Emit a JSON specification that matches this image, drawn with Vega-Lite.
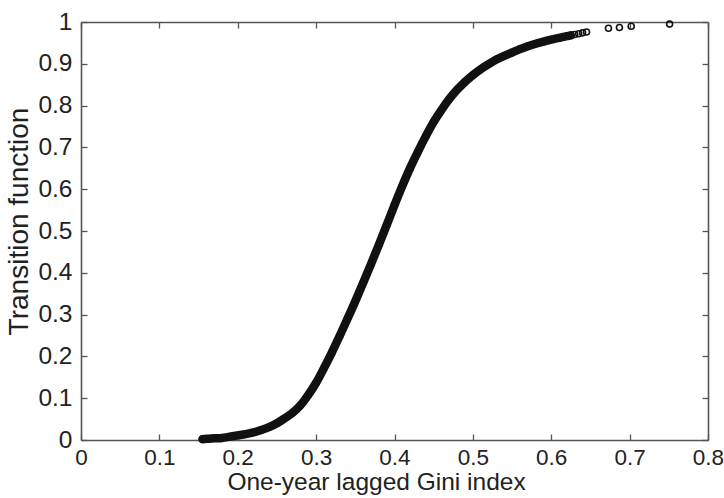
{
  "$schema": "https://vega.github.io/schema/vega-lite/v6.json",
  "width": 627,
  "height": 418,
  "autosize": "none",
  "padding": {"left": 81, "top": 22, "right": 16, "bottom": 58},
  "background": "white",
  "config": {
    "view": {"stroke": null},
    "font": "Liberation Sans",
    "axis": {
      "grid": false,
      "domainColor": "#555555",
      "domainWidth": 1.6,
      "tickColor": "#555555",
      "tickWidth": 1.3,
      "tickSize": -6,
      "labelFont": "Liberation Sans",
      "labelColor": "#222222",
      "titleFont": "Liberation Sans",
      "titleFontWeight": "normal",
      "titleColor": "#222222"
    }
  },
  "data": {
    "values": [
      {"x": 0.155, "y": 0.002}, {"x": 0.16, "y": 0.003}, {"x": 0.17, "y": 0.004}, {"x": 0.18, "y": 0.005},
      {"x": 0.19, "y": 0.008}, {"x": 0.20, "y": 0.011}, {"x": 0.21, "y": 0.014}, {"x": 0.22, "y": 0.018},
      {"x": 0.23, "y": 0.024}, {"x": 0.24, "y": 0.031}, {"x": 0.25, "y": 0.040}, {"x": 0.26, "y": 0.052},
      {"x": 0.27, "y": 0.065}, {"x": 0.28, "y": 0.083}, {"x": 0.29, "y": 0.108}, {"x": 0.30, "y": 0.137},
      {"x": 0.31, "y": 0.172}, {"x": 0.32, "y": 0.209}, {"x": 0.33, "y": 0.249}, {"x": 0.34, "y": 0.290},
      {"x": 0.35, "y": 0.332}, {"x": 0.36, "y": 0.376}, {"x": 0.37, "y": 0.421}, {"x": 0.38, "y": 0.467},
      {"x": 0.39, "y": 0.514}, {"x": 0.40, "y": 0.562}, {"x": 0.41, "y": 0.608}, {"x": 0.42, "y": 0.651},
      {"x": 0.43, "y": 0.690}, {"x": 0.44, "y": 0.727}, {"x": 0.45, "y": 0.761}, {"x": 0.46, "y": 0.790},
      {"x": 0.47, "y": 0.816}, {"x": 0.48, "y": 0.838}, {"x": 0.49, "y": 0.857}, {"x": 0.50, "y": 0.873},
      {"x": 0.51, "y": 0.887}, {"x": 0.52, "y": 0.899}, {"x": 0.53, "y": 0.910}, {"x": 0.54, "y": 0.919},
      {"x": 0.55, "y": 0.927}, {"x": 0.56, "y": 0.935}, {"x": 0.57, "y": 0.942}, {"x": 0.58, "y": 0.948},
      {"x": 0.59, "y": 0.953}, {"x": 0.60, "y": 0.958}, {"x": 0.61, "y": 0.962}, {"x": 0.62, "y": 0.966},
      {"x": 0.625, "y": 0.968}, {"x": 0.63, "y": 0.970}, {"x": 0.635, "y": 0.972}, {"x": 0.64, "y": 0.974},
      {"x": 0.645, "y": 0.976},
      {"x": 0.673, "y": 0.985}, {"x": 0.687, "y": 0.987}, {"x": 0.702, "y": 0.990}, {"x": 0.751, "y": 0.995}
    ]
  },
  "resolve": {"axis": {"x": "independent", "y": "independent"}},
  "layer": [
    {
      "transform": [{"filter": "datum.x <= 0.625"}],
      "mark": {"type": "line", "color": "#111111", "strokeWidth": 8.5, "strokeCap": "round", "interpolate": "monotone"},
      "encoding": {
        "x": {"field": "x", "type": "quantitative", "scale": {"domain": [0, 0.8], "nice": false, "zero": false},
              "axis": {"orient": "bottom", "title": "One-year lagged Gini index", "titleFontSize": 24.5, "labelFontSize": 22.5, "format": "~g", "values": [0, 0.1, 0.2, 0.3, 0.4, 0.5, 0.6, 0.7, 0.8], "labelPadding": 12, "titlePadding": 2, "titleX": 295, "labelFlush": false}},
        "y": {"field": "y", "type": "quantitative", "scale": {"domain": [0, 1], "nice": false, "zero": false},
              "axis": {"orient": "left", "title": "Transition function", "titleFontSize": 28, "labelFontSize": 24.5, "format": "~g", "values": [0, 0.1, 0.2, 0.3, 0.4, 0.5, 0.6, 0.7, 0.8, 0.9, 1], "labelPadding": 15, "titlePadding": 4, "titleY": 199, "labelFlush": false}}
      }
    },
    {
      "mark": {"type": "point", "shape": "circle", "filled": false, "stroke": "#111111", "strokeWidth": 1.6, "size": 36, "opacity": 1},
      "encoding": {
        "x": {"field": "x", "type": "quantitative", "scale": {"domain": [0, 0.8], "nice": false, "zero": false},
              "axis": {"orient": "top", "title": null, "labels": false, "values": [0, 0.1, 0.2, 0.3, 0.4, 0.5, 0.6, 0.7, 0.8]}},
        "y": {"field": "y", "type": "quantitative", "scale": {"domain": [0, 1], "nice": false, "zero": false},
              "axis": {"orient": "right", "title": null, "labels": false, "values": [0, 0.1, 0.2, 0.3, 0.4, 0.5, 0.6, 0.7, 0.8, 0.9, 1]}}
      }
    }
  ]
}
